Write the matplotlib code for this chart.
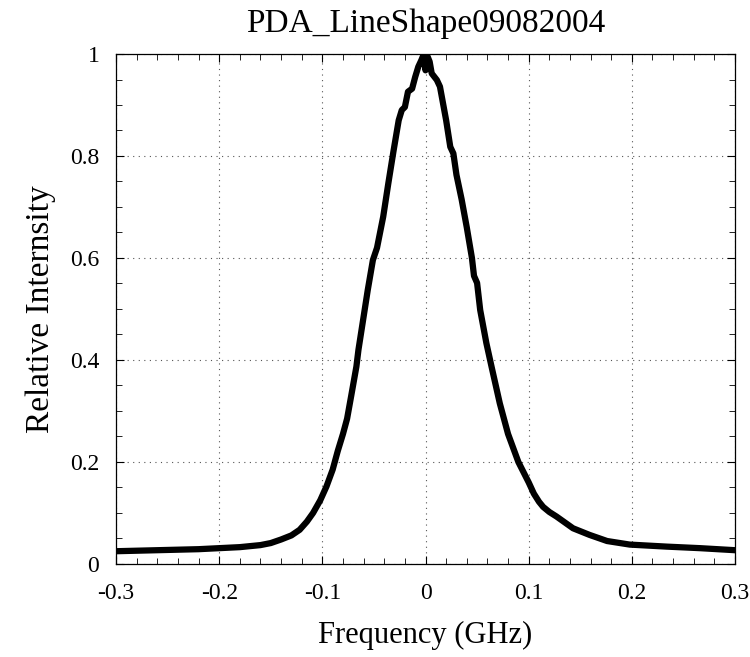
import numpy as np
import matplotlib
matplotlib.use("Agg")
import matplotlib.pyplot as plt
from matplotlib.ticker import MultipleLocator

# line shape (GHz, relative intensity)
freq = [-0.300, -0.280, -0.260, -0.240, -0.220, -0.200, -0.180, -0.160, -0.150,
        -0.140, -0.130, -0.122, -0.115, -0.109, -0.102, -0.096, -0.090, -0.085,
        -0.080, -0.076, -0.072, -0.067, -0.065, -0.060, -0.056, -0.051, -0.047,
        -0.041, -0.036, -0.031, -0.026, -0.023, -0.020, -0.017, -0.013, -0.010,
        -0.007, -0.004, -0.002, 0.000, 0.001, 0.004, 0.006, 0.011, 0.014,
        0.020, 0.024, 0.027, 0.030, 0.035, 0.040, 0.045, 0.047, 0.050,
        0.053, 0.059, 0.064, 0.072, 0.080, 0.090, 0.100, 0.105, 0.110,
        0.114, 0.120, 0.127, 0.143, 0.159, 0.176, 0.198, 0.234, 0.266, 0.300]
intensity = [0.025, 0.026, 0.027, 0.028, 0.029, 0.031, 0.033, 0.037, 0.041,
             0.048, 0.056, 0.067, 0.083, 0.100, 0.125, 0.152, 0.185, 0.222,
             0.255, 0.285, 0.330, 0.387, 0.420, 0.485, 0.537, 0.596, 0.620,
             0.681, 0.747, 0.810, 0.870, 0.890, 0.896, 0.926, 0.932, 0.955,
             0.975, 0.988, 0.998, 0.968, 1.000, 0.985, 0.962, 0.949, 0.936,
             0.870, 0.818, 0.805, 0.763, 0.715, 0.660, 0.600, 0.565, 0.551,
             0.498, 0.433, 0.387, 0.315, 0.255, 0.200, 0.160, 0.138, 0.122,
             0.112, 0.102, 0.093, 0.070, 0.057, 0.045, 0.038, 0.034, 0.031, 0.027]

xticks = [-0.3, -0.2, -0.1, 0, 0.1, 0.2, 0.3]
xticklabels = ["-0.3", "-0.2", "-0.1", "0", "0.1", "0.2", "0.3"]
yticks = [0, 0.2, 0.4, 0.6, 0.8, 1]
yticklabels = ["0", "0.2", "0.4", "0.6", "0.8", "1"]

plt.rcParams['font.family'] = ['Liberation Serif', 'DejaVu Serif']

fig = plt.figure(figsize=(7.5, 6.57), dpi=100)
ax = fig.add_axes([0.1547, 0.1416, 0.8253, 0.7762])

ax.plot(freq, intensity, color='black', linewidth=4.5, solid_joinstyle='round',
        solid_capstyle='round')

ax.set_xlim(-0.3, 0.3)
ax.set_ylim(0, 1)
ax.set_xticks(xticks)
ax.set_xticklabels(xticklabels)
ax.set_yticks(yticks)
ax.set_yticklabels(yticklabels)
ax.xaxis.set_minor_locator(MultipleLocator(0.02))
ax.yaxis.set_minor_locator(MultipleLocator(0.05))

ax.tick_params(which='both', direction='in', top=True, right=True, labelsize=17)
ax.tick_params(axis='x', which='major', pad=14)
ax.tick_params(axis='y', which='major', pad=12)
ax.tick_params(which='major', length=6, width=0.8)
ax.tick_params(which='minor', length=4, width=0.6)

ax.grid(True, which='major', linestyle=(0, (1, 4)), color='#555555', linewidth=0.8)

for sp in ax.spines.values():
    sp.set_linewidth(0.9)

ax.set_title('PDA_LineShape09082004', fontsize=24, pad=16)
ax.set_xlabel('Frequency (GHz)', fontsize=22, labelpad=12)
ax.set_ylabel('Relative Internsity', fontsize=24, labelpad=10)

fig.savefig('out.png', dpi=100)
